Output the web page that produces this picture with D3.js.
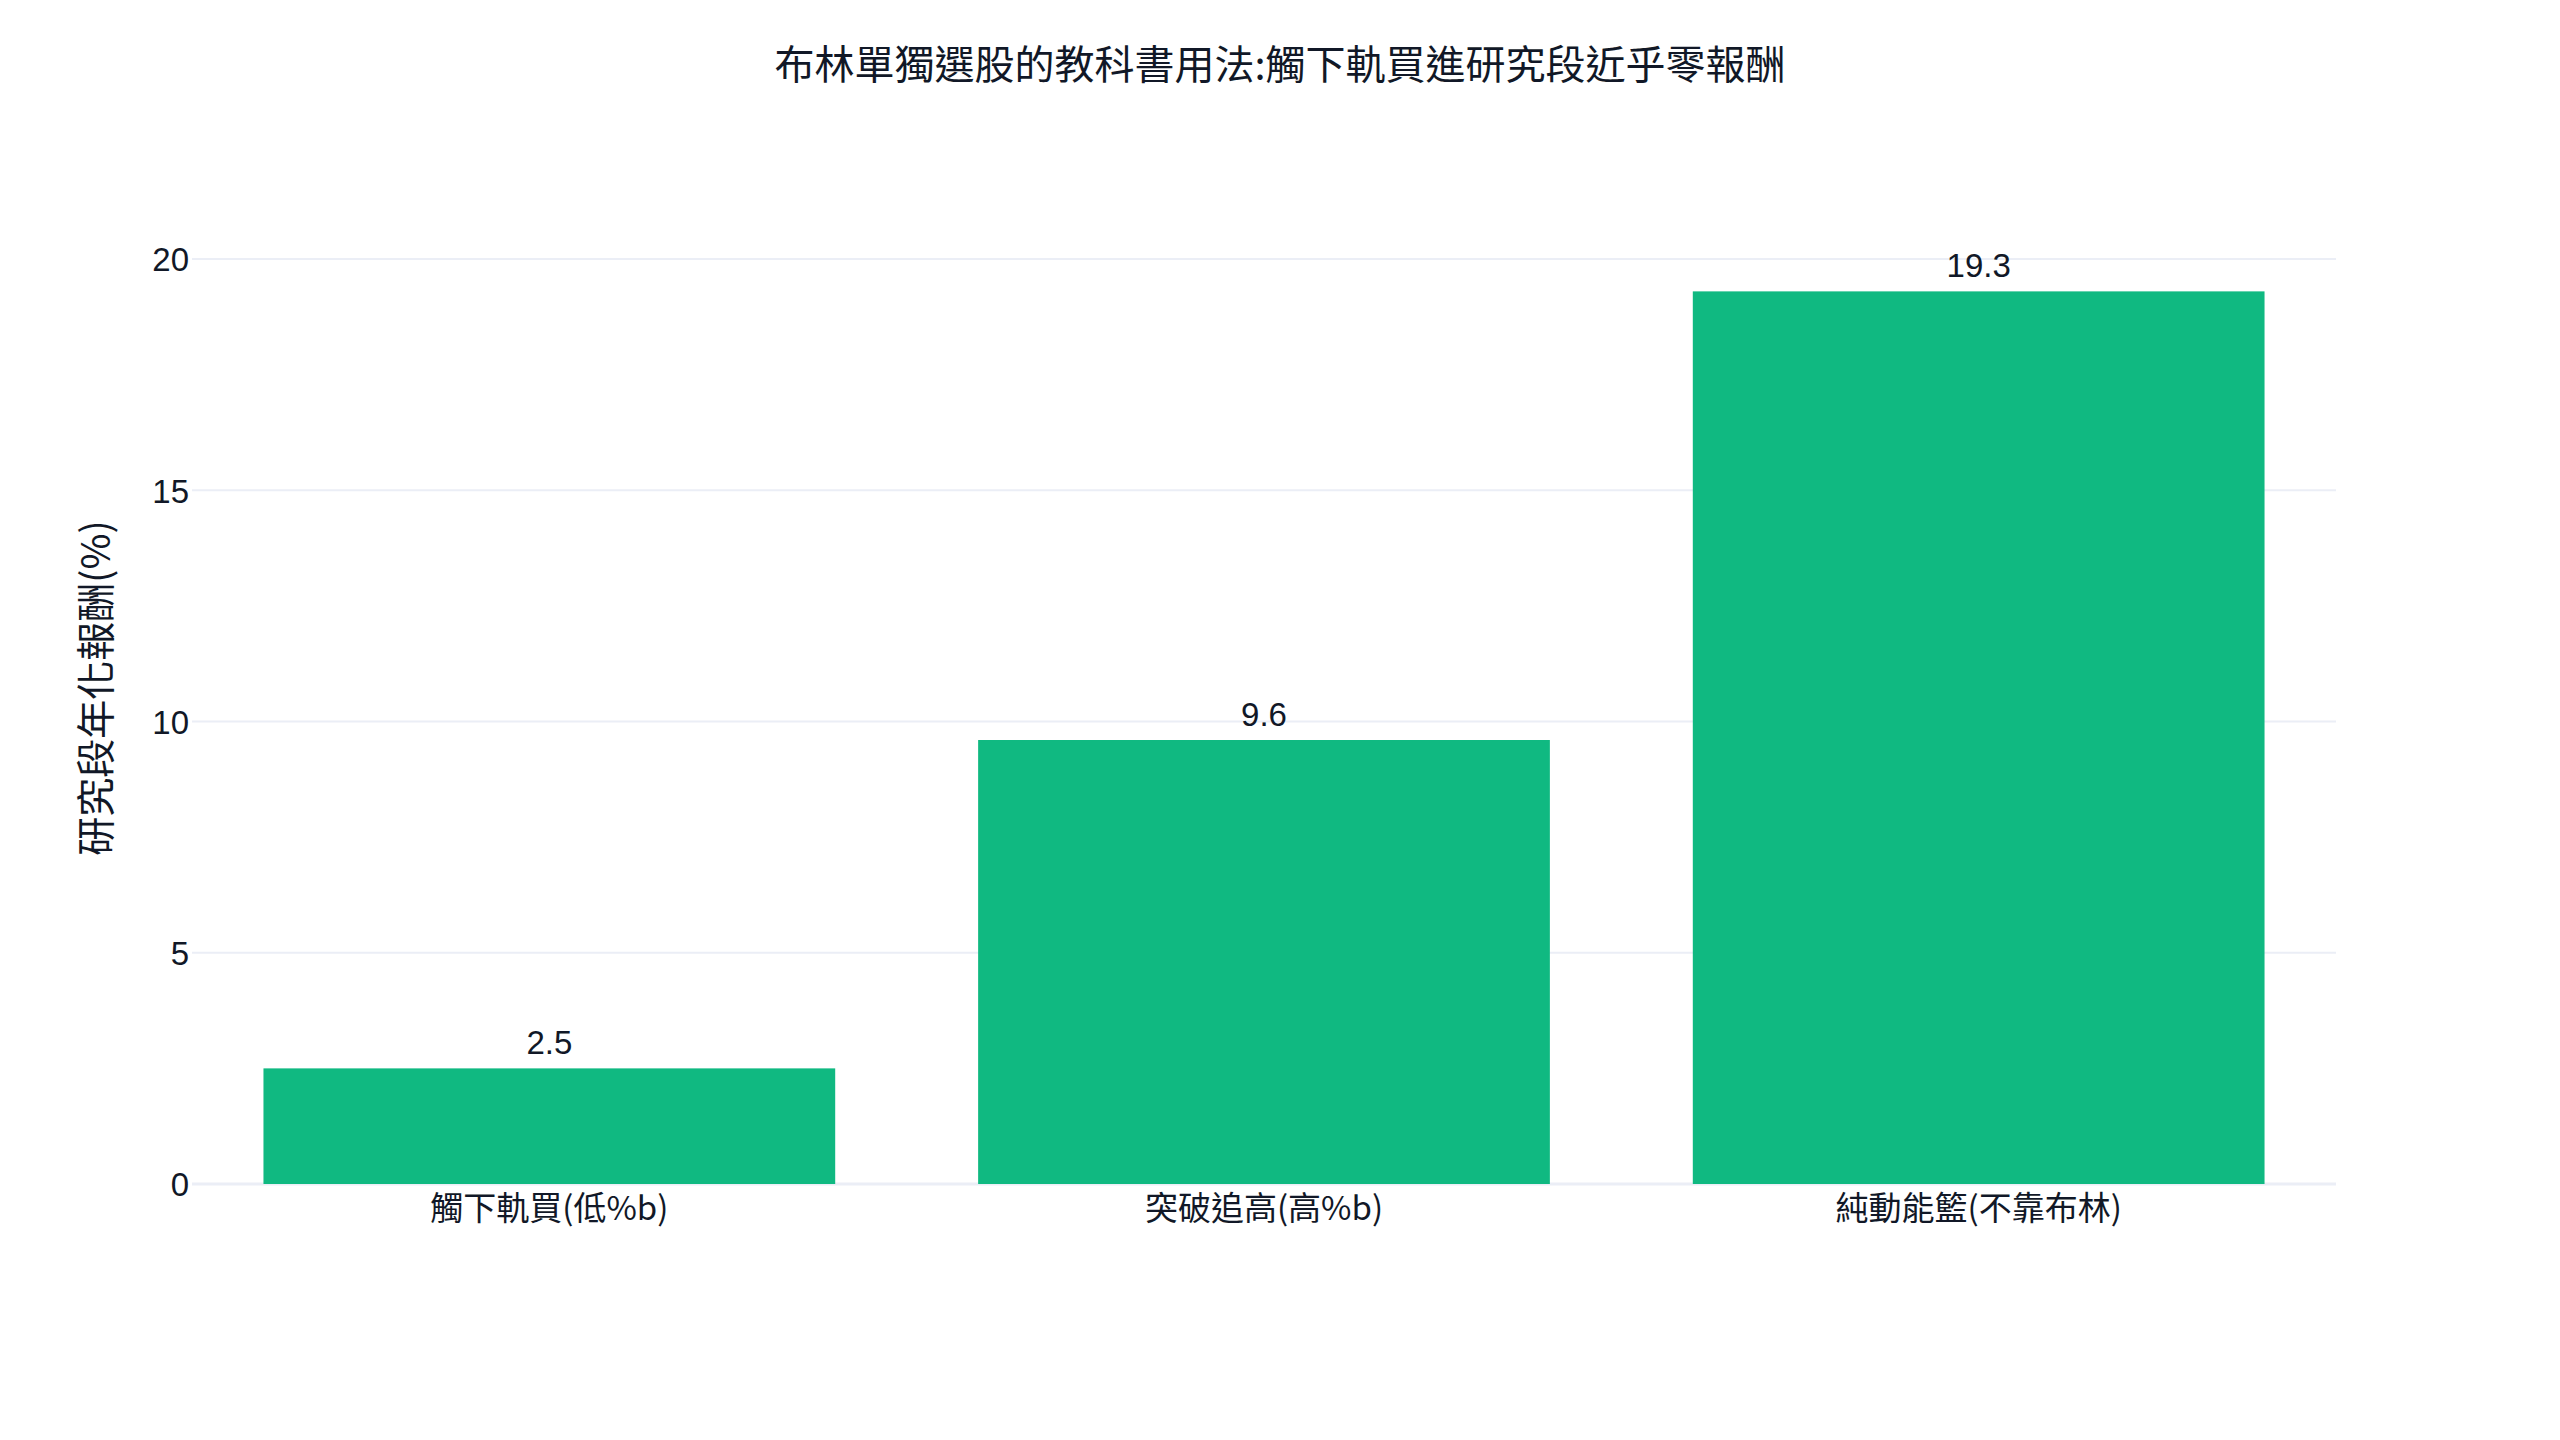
<!DOCTYPE html>
<html>
<head>
<meta charset="utf-8">
<script src="https://cdn.jsdelivr.net/npm/d3@7"></script>
<style>
  html, body { margin: 0; padding: 0; background: #fff; }
  svg text { fill: #111827; font-family: "Liberation Sans", "Noto Sans CJK TC", sans-serif; }
  .cjk { font-family: "Noto Sans CJK TC", "Liberation Sans", sans-serif; }
</style>
</head>
<body>
<svg id="chart"></svg>
<script>
// chart data
const categories = ['觸下軌買(低%b)', '突破追高(高%b)', '純動能籃(不靠布林)'];
const returns = [2.5, 9.6, 19.3];
const yTicks = [0, 5, 10, 15, 20];
const titleText = '布林單獨選股的教科書用法:觸下軌買進研究段近乎零報酬';
const yTitle = '研究段年化報酬(%)';

const width = 2560, height = 1440;
const margin = {top: 259, right: 224, bottom: 256, left: 192};

const svg = d3.select('#chart')
    .attr('width', width)
    .attr('height', height);

// scales
const xScale = d3.scaleBand()
    .domain(categories)
    .range([margin.left, width - margin.right])
    .paddingInner(0.2)
    .paddingOuter(0.1);

const yScale = d3.scaleLinear()
    .domain([0, 20])
    .range([height - margin.bottom, margin.top]);

// gridlines
svg.append('g')
    .selectAll('line')
    .data(yTicks)
  .join('line')
    .attr('x1', margin.left)
    .attr('x2', width - margin.right)
    .attr('y1', d => yScale(d))
    .attr('y2', d => yScale(d))
    .attr('stroke', '#ebeef6')
    .attr('stroke-width', d => d === 0 ? 3 : 2);

// y axis labels (no domain / ticks, just labels)
const yAxis = d3.axisLeft(yScale)
    .tickValues(yTicks)
    .tickSize(0)
    .tickPadding(0);

svg.append('g')
    .attr('transform', `translate(${margin.left - 3},0)`)
    .call(yAxis)
    .call(g => g.select('.domain').remove())
    .call(g => g.selectAll('text')
        .attr('font-size', 33)
        .attr('font-family', null)
        .attr('fill', null)
        .attr('dy', '0.36em'));

// bars
svg.append('g')
    .selectAll('rect')
    .data(returns)
  .join('rect')
    .attr('x', (d, i) => xScale(categories[i]))
    .attr('width', xScale.bandwidth())
    .attr('y', d => yScale(d))
    .attr('height', d => yScale(0) - yScale(d))
    .attr('fill', '#10b981');

// value labels
svg.append('g')
    .selectAll('text')
    .data(returns)
  .join('text')
    .attr('x', (d, i) => xScale(categories[i]) + xScale.bandwidth() / 2)
    .attr('y', d => yScale(d) - 14)
    .attr('text-anchor', 'middle')
    .attr('font-size', 33)
    .text(d => d.toFixed(1));

// x axis labels
const xAxis = d3.axisBottom(xScale)
    .tickSize(0)
    .tickPadding(0);

svg.append('g')
    .attr('transform', `translate(0,${height - margin.bottom})`)
    .call(xAxis)
    .call(g => g.select('.domain').remove())
    .call(g => g.selectAll('text')
        .attr('class', 'cjk')
        .attr('font-size', 33)
        .attr('font-family', null)
        .attr('fill', null)
        .attr('y', 24)
        .attr('dy', '0.36em'));

// y axis title
svg.append('text')
    .attr('class', 'cjk')
    .attr('transform', `translate(93,688) rotate(-90)`)
    .attr('text-anchor', 'middle')
    .attr('dominant-baseline', 'central')
    .attr('font-size', 39)
    .text(yTitle);

// chart title
svg.append('text')
    .attr('class', 'cjk')
    .attr('x', width / 2)
    .attr('y', 62)
    .attr('text-anchor', 'middle')
    .attr('dominant-baseline', 'central')
    .attr('font-size', 40)
    .text(titleText);
</script>
</body>
</html>
